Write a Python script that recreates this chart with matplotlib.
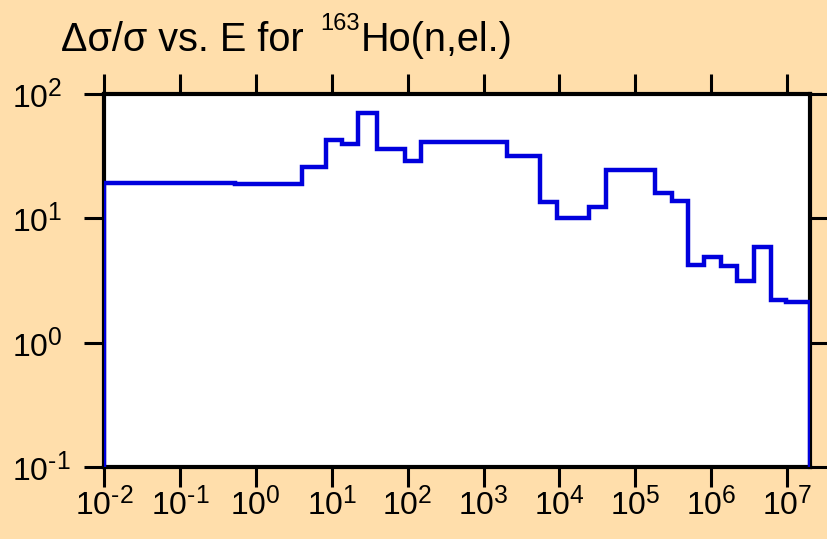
import matplotlib
matplotlib.use("Agg")
import matplotlib.pyplot as plt
import matplotlib._mathtext as mathtext_internal
import numpy as np
from matplotlib.ticker import LogLocator, NullLocator, FuncFormatter

# Bin edges (eV) and relative uncertainty values (%)
energy_edges = [1e-2, 0.1, 0.53, 4.0, 8.3, 13.8, 22, 40, 91, 148, 2050, 5570,
                9250, 24500, 40800, 1.8e5, 3e5, 4.9e5, 8.1e5, 1.34e6, 2.2e6,
                3.7e6, 6.1e6, 9.8e6, 2e7]
rel_unc = [19.1, 19.3, 18.9, 25.8, 43, 39.4, 70.7, 36.3, 29, 41.4, 31.9, 13.6,
           10.1, 12.4, 24.5, 16.1, 13.9, 4.2, 4.85, 4.13, 3.13, 5.85, 2.2, 2.11]

bg = '#FFDEAB'
W, H = 827, 539
plt.rcParams['font.family'] = ['Liberation Sans', 'DejaVu Sans']
plt.rcParams['mathtext.fontset'] = 'custom'
plt.rcParams['mathtext.rm'] = 'Liberation Sans'
plt.rcParams['mathtext.it'] = 'Liberation Sans'
plt.rcParams['mathtext.bf'] = 'Liberation Sans'
# exponents in the reference are bigger than mathtext's default 0.7
mathtext_internal.SHRINK_FACTOR = 0.77


def dec_label(v, pos):
    e = int(round(np.log10(v)))
    return r'$10^{\text{%d}}$' % e


fig = plt.figure(figsize=(W / 100, H / 100), dpi=100, facecolor=bg)
ax = fig.add_axes([104 / W, 1 - 467 / H, (810 - 104) / W, (467 - 94) / H])
ax.set_facecolor('white')

ax.stairs(rel_unc, energy_edges, baseline=1e-3, color='#0000DD',
          linewidth=3.2, zorder=3)

ax.set_xscale('log')
ax.set_yscale('log')
ax.set_xlim(1e-2, 2e7)
ax.set_ylim(1e-1, 1e2)
ax.xaxis.set_major_locator(LogLocator(base=10, numticks=20))
ax.yaxis.set_major_locator(LogLocator(base=10, numticks=20))
ax.xaxis.set_minor_locator(NullLocator())
ax.yaxis.set_minor_locator(NullLocator())
ax.xaxis.set_major_formatter(FuncFormatter(dec_label))
ax.yaxis.set_major_formatter(FuncFormatter(dec_label))

ax.tick_params(which='major', direction='out', length=14.4, width=2.2,
               labelsize=23, top=True, right=True)
ax.tick_params(axis='x', pad=0)
ax.tick_params(axis='y', pad=52)
for lab in ax.get_yticklabels():
    lab.set_horizontalalignment('left')
for s in ax.spines.values():
    s.set_linewidth(3)

# title: main text, smaller raised mass number, then the rest
base_y = 1 - 50.7 / H
sup_y = 1 - 30 / H
r = fig.canvas.get_renderer()
t1 = fig.text(61 / W, base_y, 'Δσ/σ vs. E for', fontsize=28.5, va='baseline')
x1 = t1.get_window_extent(r).x1
t2 = fig.text((x1 + 17) / W, sup_y, '163', fontsize=17, va='baseline')
x2 = t2.get_window_extent(r).x1
fig.text((x2 + 1) / W, base_y, 'Ho(n,el.)', fontsize=28.5, va='baseline')

fig.savefig('out.png', dpi=100, facecolor=bg)
